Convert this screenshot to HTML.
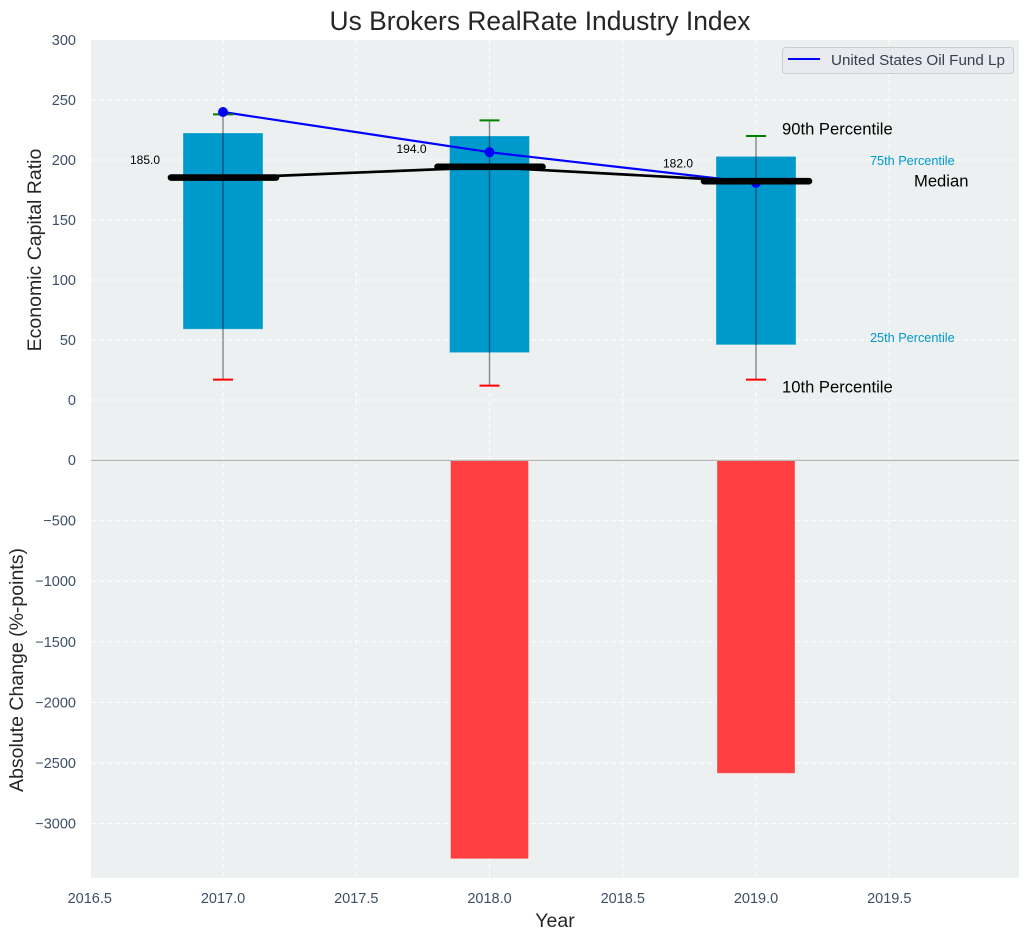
<!DOCTYPE html>
<html lang="en">
<head>
<meta charset="utf-8">
<title>Us Brokers RealRate Industry Index</title>
<style>
html,body{margin:0;padding:0;background:#fff;}
svg{display:block;font-family:"Liberation Sans",Arial,sans-serif;}
</style>
</head>
<body>
<svg id="chart" width="1029" height="940" viewBox="0 0 1029 940" xmlns="http://www.w3.org/2000/svg">
  <rect x="91" y="40" width="928" height="420" fill="#ecf0f1"/>
  <rect x="91" y="460" width="928" height="418" fill="#ecf0f1"/>
  <g id="grid"></g>
  <g id="marks"></g>
  <line x1="91" x2="1019" y1="459" y2="459" stroke="#ffffff" stroke-width="1"/>
  <line x1="91" x2="1019" y1="460.3" y2="460.3" stroke="#b8b8b8" stroke-width="1.3"/>
  <g id="ticks"></g>
  <text x="540" y="30" text-anchor="middle" font-size="26.4" fill="#262626">Us Brokers RealRate Industry Index</text>
  <text transform="translate(41 250) rotate(-90)" text-anchor="middle" font-size="19.5" fill="#262626">Economic Capital Ratio</text>
  <text transform="translate(23 670) rotate(-90)" text-anchor="middle" font-size="19.5" fill="#262626">Absolute Change (%-points)</text>
  <text x="555" y="927" text-anchor="middle" font-size="19.5" fill="#262626">Year</text>
  <text x="782" y="134.5" font-size="16.6" fill="#000000">90th Percentile</text>
  <text x="870" y="165" font-size="12.7" fill="#0099cc">75th Percentile</text>
  <text x="914" y="186.5" font-size="16.6" fill="#000000">Median</text>
  <text x="870" y="342" font-size="12.7" fill="#0099cc">25th Percentile</text>
  <text x="782" y="392.5" font-size="16.6" fill="#000000">10th Percentile</text>
  <g>
    <rect x="782.5" y="47.5" width="231" height="26" rx="3" fill="#e8eaef" stroke="#cccccc" stroke-width="1"/>
    <line x1="788" x2="820" y1="59" y2="59" stroke="#0000ff" stroke-width="2"/>
    <text x="831" y="65" font-size="15.2" fill="#34404f">United States Oil Fund Lp</text>
  </g>
</svg>
<script>
var years = [2017, 2018, 2019];
var p10 = [17, 12, 17];
var p25 = [59, 39.5, 46];
var medians = [185, 194, 182];
var p75 = [222.5, 220, 203];
var p90 = [238, 233, 220];
var fundValues = [240, 206.5, 181];
var absoluteChange = [0, -3290, -2585];
var xTicks = [2016.5, 2017, 2017.5, 2018, 2018.5, 2019, 2019.5];
var upperTicks = [0, 50, 100, 150, 200, 250, 300];
var lowerTicks = [0, -500, -1000, -1500, -2000, -2500, -3000];

var NS = 'http://www.w3.org/2000/svg';
var gridLayer = document.getElementById('grid');
var marks = document.getElementById('marks');
var ticks = document.getElementById('ticks');

function xScale(v) { return 223 + (v - 2017) * 266.5; }
function yUpper(v) { return 400 - v * 1.2; }
function yLower(v) { return 460 + (-v) * 0.1212; }

function mk(tag, parent, attrs) {
  var el = document.createElementNS(NS, tag);
  for (var k in attrs) { el.setAttribute(k, attrs[k]); }
  parent.appendChild(el);
  return el;
}

var el;

// Gridlines
function gridLine(x1, x2, y1, y2) {
  return mk('line', gridLayer, { x1: x1, x2: x2, y1: y1, y2: y2, stroke: '#ffffff', 'stroke-width': 1, 'stroke-dasharray': '5 3', 'stroke-opacity': 0.9 });
}
xTicks.forEach(function (t) {
  var px = xScale(t);
  if (px >= 91) {
    el = gridLine(px, px, 40, 878);
    
    
  }
  el = mk('text', ticks, { x: px, y: 903, 'text-anchor': 'middle', 'font-size': 14.5, fill: '#3d4f66' });
  el.textContent = t.toFixed(1);
  
  
});
upperTicks.forEach(function (t) {
  var py = yUpper(t);
  if (t < 300) {
    el = gridLine(91, 1019, py, py);
    
    
  }
  el = mk('text', ticks, { x: 76, y: py + 5, 'text-anchor': 'end', 'font-size': 14.5, fill: '#3d4f66' });
  el.textContent = String(t);
  
  
});
lowerTicks.forEach(function (t) {
  var py = yLower(t);
  if (t !== 0) {
    el = gridLine(91, 1019, py, py);
    
    
  }
  el = mk('text', ticks, { x: 76, y: py + 5, 'text-anchor': 'end', 'font-size': 14.5, fill: '#3d4f66' });
  el.textContent = String(t).replace('-', '\u2212');
  
  
});

var barW = 0.3 * 266.5;

// Interquartile bars
years.forEach(function (yr, n) {
  el = mk('rect', marks, { x: xScale(yr) - barW / 2, y: yUpper(p75[n]), width: barW, height: yUpper(p25[n]) - yUpper(p75[n]), fill: '#0099cc', stroke: '#ffffff', 'stroke-opacity': 0.3, 'stroke-width': 1 });
  
  
});

// Absolute change bars
years.forEach(function (yr, n) {
  if (absoluteChange[n] === 0) { return; }
  el = mk('rect', marks, { x: xScale(yr) - barW / 2 + 1, y: yLower(0), width: barW - 2, height: yLower(absoluteChange[n]) - yLower(0), fill: '#ff3f41', stroke: '#ffffff', 'stroke-opacity': 0.3, 'stroke-width': 1 });
  
  
});

// Fund line
el = mk('polyline', marks, { points: years.map(function (yr, n) { return xScale(yr) + ',' + yUpper(fundValues[n]); }).join(' '), fill: 'none', stroke: '#0000ff', 'stroke-width': 2.2 });



// Whiskers and caps
years.forEach(function (yr, n) {
  var px = xScale(yr);
  el = mk('line', marks, { x1: px, x2: px, y1: yUpper(p90[n]), y2: yUpper(p10[n]), stroke: '#000000', 'stroke-opacity': 0.45, 'stroke-width': 1.4 });
  
  
  el = mk('line', marks, { x1: px - 10, x2: px + 10, y1: yUpper(p90[n]), y2: yUpper(p90[n]), stroke: '#008000', 'stroke-width': 2 });
  
  
  el = mk('line', marks, { x1: px - 10, x2: px + 10, y1: yUpper(p10[n]), y2: yUpper(p10[n]), stroke: '#ff0000', 'stroke-width': 2 });
  
  
});

// Fund points
years.forEach(function (yr, n) {
  el = mk('circle', marks, { cx: xScale(yr), cy: yUpper(fundValues[n]), r: 5, fill: '#0000ff' });
  
  
});

// Median trend and thick markers
el = mk('polyline', marks, { points: years.map(function (yr, n) { return xScale(yr) + ',' + yUpper(medians[n]); }).join(' '), fill: 'none', stroke: '#000000', 'stroke-width': 2.7 });



years.forEach(function (yr, n) {
  var px = xScale(yr);
  el = mk('line', marks, { x1: px - 52, x2: px + 53, y1: yUpper(medians[n]) - 0.4, y2: yUpper(medians[n]) - 0.4, stroke: '#000000', 'stroke-width': 6.6, 'stroke-linecap': 'round' });
  
  
  el = mk('text', marks, { x: px - 78, y: yUpper(medians[n] + 15) + 4, 'text-anchor': 'middle', 'font-size': 12, fill: '#000000' });
  el.textContent = medians[n].toFixed(1);
  
  
});
</script>
</body>
</html>
